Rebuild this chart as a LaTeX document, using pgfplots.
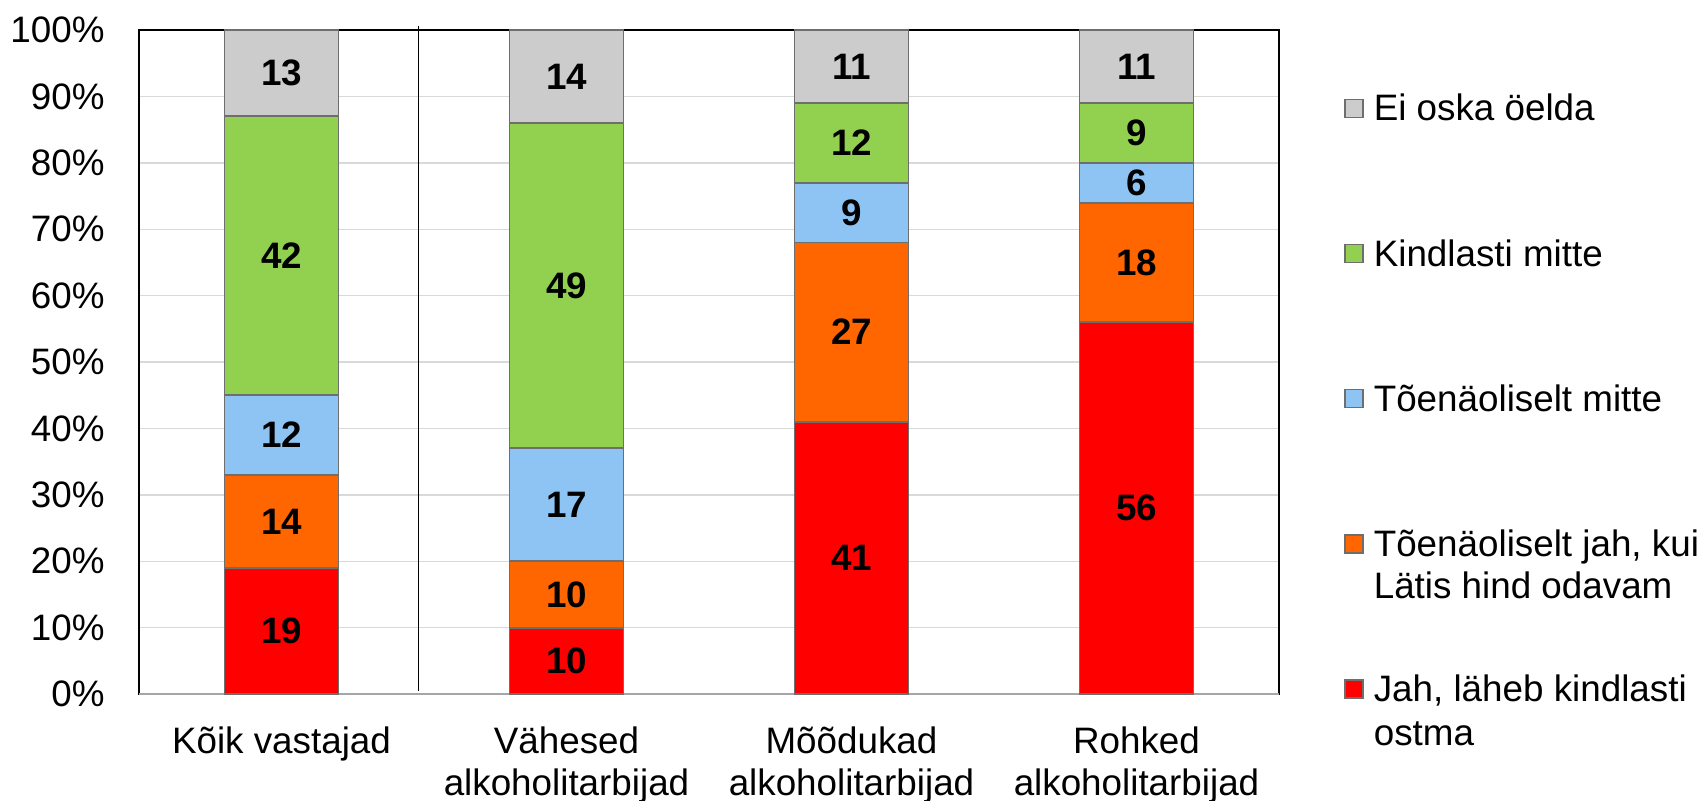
\documentclass[border=0pt]{standalone}
\usepackage{pgfplots}
\pgfplotsset{compat=1.18}
\usepackage{fontspec}
\setmainfont{Liberation Sans}
\definecolor{cgray}{HTML}{CCCCCC}
\definecolor{cgreen}{HTML}{92D050}
\definecolor{cblue}{HTML}{8EC4F4}
\definecolor{corange}{HTML}{FF6600}
\definecolor{cred}{HTML}{FF0000}
\definecolor{cedge}{HTML}{6E6E6E}
\definecolor{cgrid}{HTML}{D9D9D9}
\definecolor{cbottom}{HTML}{A6A6A6}
\begin{document}
\begin{tikzpicture}
\useasboundingbox (-69.5pt,-53pt) rectangle (784pt,347pt);
\begin{axis}[
  scale only axis, width=570pt, height=332pt,
  clip=false,
  ybar stacked, bar width=0.4,
  xmin=-0.5, xmax=3.5, ymin=0, ymax=100,
  xtick={0,1,2,3},
  xticklabels={Kõik vastajad,Vähesed\\alkoholitarbijad,Mõõdukad\\alkoholitarbijad,Rohked\\alkoholitarbijad},
  ytick={0,10,...,100},
  yticklabels={0\%,10\%,20\%,30\%,40\%,50\%,60\%,70\%,80\%,90\%,100\%},
  major tick length=0pt,
  ymajorgrids, grid style={cgrid, line width=0.7pt},
  axis line style={black, line width=0.7pt},
  tick label style={font=\fontsize{18.4}{21}\selectfont},
  yticklabel style={anchor=east, inner sep=0pt, xshift=-17pt},
  xticklabel style={anchor=north, inner sep=0pt, yshift=-16pt, align=center},
  nodes near coords={\pgfmathprintnumber[assume math mode=true]{\pgfplotspointmeta}},
  every node near coord/.append style={font=\fontsize{18.4}{21}\selectfont\bfseries, anchor=center, text=black},
  reverse legend,
  legend cell align=left,
  legend image code/.code={\draw[#1, line width=0.7pt] (0pt,-2.8pt) rectangle (9pt,6.2pt);},
  legend style={at={(1.0570,0.9028)}, anchor=north west, draw=none, fill=none, inner sep=0pt, row sep=55.55pt, column sep=5pt, font=\fontsize{18.4}{22}\selectfont, nodes={inner sep=0pt, text height=13pt, text depth=4pt}},
]
\addplot[fill=cred, draw=cedge, line width=0.9pt] coordinates {(0,19) (1,10) (2,41) (3,56)};
\addlegendentry{\begin{tabular}[t]{@{}l@{}}Jah, läheb kindlasti\\ostma\end{tabular}}
\addplot[fill=corange, draw=cedge, line width=0.9pt] coordinates {(0,14) (1,10) (2,27) (3,18)};
\addlegendentry{\begin{tabular}[t]{@{}l@{}}Tõenäoliselt jah, kui\\[-1.1pt]Lätis hind odavam\end{tabular}}
\addplot[fill=cblue, draw=cedge, line width=0.9pt] coordinates {(0,12) (1,17) (2,9) (3,6)};
\addlegendentry{Tõenäoliselt mitte}
\addplot[fill=cgreen, draw=cedge, line width=0.9pt] coordinates {(0,42) (1,49) (2,12) (3,9)};
\addlegendentry{Kindlasti mitte}
\addplot[fill=cgray, draw=cedge, line width=0.9pt] coordinates {(0,13) (1,14) (2,11) (3,11)};
\addlegendentry{Ei oska öelda}
\draw[black, line width=0.7pt] (axis cs:0.48,0.5) -- (axis cs:0.48,100.6);
\draw[cbottom, line width=1pt] (axis cs:-0.5,0) -- (axis cs:3.5,0);
\end{axis}
\end{tikzpicture}
\end{document}
